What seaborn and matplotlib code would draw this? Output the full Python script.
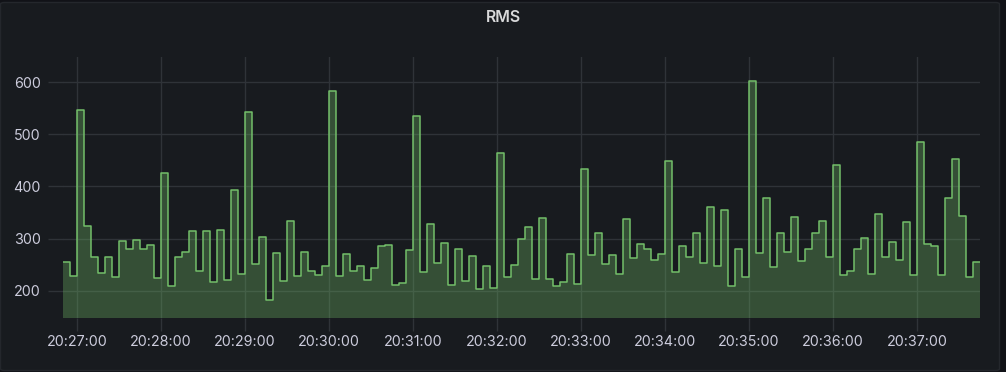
import numpy as np
import pandas as pd
import matplotlib
matplotlib.use("Agg")
import matplotlib.pyplot as plt
import matplotlib.dates as mdates
from matplotlib.patches import FancyBboxPatch
import seaborn as sb

# 5 second samples starting 20:26:50
start_time = "2021-01-01 20:26:50"
step_seconds = 5
rms = [256, 229, 546, 325, 265, 235, 265, 226, 296, 281,
       298, 281, 288, 224, 425, 209, 265, 275, 315, 238,
       315, 217, 317, 221, 394, 233, 542, 252, 304, 183,
       273, 219, 333, 229, 274, 238, 231, 248, 583, 229,
       271, 238, 248, 221, 244, 286, 288, 212, 215, 279,
       535, 237, 329, 254, 292, 212, 281, 219, 267, 204,
       248, 206, 465, 227, 250, 300, 323, 223, 340, 223,
       210, 217, 271, 213, 433, 269, 310, 252, 269, 233,
       338, 262, 290, 281, 260, 271, 448, 237, 286, 265,
       310, 254, 361, 248, 354, 210, 281, 227, 602, 273,
       377, 246, 311, 275, 342, 258, 281, 311, 333, 265,
       442, 231, 238, 281, 302, 233, 348, 265, 294, 260,
       331, 231, 486, 290, 286, 231, 377, 452, 344, 227,
       256]
y_ticks = [200, 300, 400, 500, 600]

BG = "#181b1f"
TEXT = "#ccccdc"
GRID = "#2f3338"
GREEN = "#73bf69"

times = pd.date_range(start_time, periods=len(rms) + 1, freq=f"{step_seconds}s")
df = pd.DataFrame({"time": times, "rms": rms + [rms[-1]]})

plt.rcParams["font.family"] = ["Inter", "DejaVu Sans"]

fig = plt.figure(figsize=(10.06, 3.72), dpi=100)
fig.patch.set_facecolor("#111217")
panel = FancyBboxPatch((0.5 / 1006, 1.5 / 372), 999 / 1006, 368 / 372,
                       boxstyle="round,pad=0,rounding_size=0.004",
                       transform=fig.transFigure, facecolor=BG,
                       edgecolor="#24272c", linewidth=1, zorder=0)
fig.add_artist(panel)

ax = fig.add_axes([63 / 1006, 1 - 318 / 372, (980 - 63) / 1006, (318 - 57) / 372])
ax.set_facecolor(BG)
ax.patch.set_alpha(0)

sb.lineplot(data=df, x="time", y="rms", ax=ax, drawstyle="steps-post",
            color=GREEN, linewidth=1.1, zorder=3)
ax.fill_between(df["time"], df["rms"], 148, step="post",
                color=GREEN, alpha=0.32, linewidth=0, zorder=2)

ax.set_xlim(times[0], times[-1])
ax.set_ylim(148, 648)
ax.set_yticks(y_ticks)
ax.xaxis.set_major_locator(mdates.MinuteLocator())
ax.xaxis.set_major_formatter(mdates.DateFormatter("%H:%M:%S"))

ax.grid(True, color=GRID, linewidth=1, zorder=1)
ax.set_axisbelow(True)
for s in ax.spines.values():
    s.set_visible(False)
ax.tick_params(axis="x", colors=GRID, labelcolor=TEXT, labelsize=10.3,
               length=9, width=1, pad=3)
ax.tick_params(axis="y", colors=GRID, labelcolor=TEXT, labelsize=10.3,
               length=11, width=1, pad=5)
ax.set_xlabel("")
ax.set_ylabel("")

fig.text(0.5, 1 - 18 / 372, "RMS", ha="center", va="center",
         color="#d8d9da", fontsize=11.5, fontweight="semibold")

fig.savefig("out.png", dpi=100, facecolor=fig.get_facecolor())
